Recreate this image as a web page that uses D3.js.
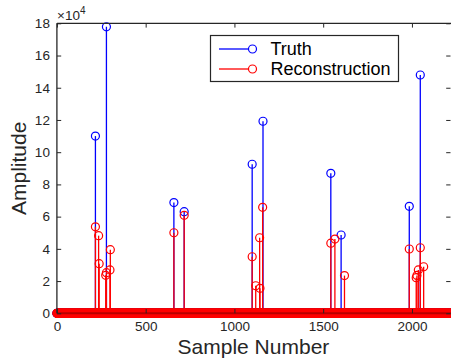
<!DOCTYPE html>
<html><head><meta charset="utf-8">
<script src="https://cdn.jsdelivr.net/npm/d3@7"></script>
<style>
html,body{margin:0;padding:0;background:#fff;}
svg{display:block;font-family:"Liberation Sans",Arial,Helvetica,sans-serif;}
</style></head>
<body><div id="chart"></div>
<script>
// Sample count shown on the axis
const sampleCount = 2220;
// Truth: non-zero samples
const truthIdx = [217, 279, 659, 717, 1100, 1161, 1543, 1601, 1985, 2047];
const truthVal = [110000, 177800, 68700, 63100, 92500, 119200, 86900, 48600, 66400, 147900];
// Reconstruction: non-zero samples
const reconIdx = [217, 235, 238, 275, 279, 299, 301, 659, 717, 1100, 1120, 1142, 1144, 1159, 1543, 1566, 1620, 1985, 2024, 2028, 2036, 2047, 2066];
const reconVal = [53700, 48200, 30800, 23600, 25200, 26900, 39500, 50000, 60800, 35100, 17100, 46900, 15500, 65800, 43500, 46100, 23400, 39900, 22100, 23500, 26900, 40700, 28900];
const xTicks = [0, 500, 1000, 1500, 2000];
const yTicks = [0, 20000, 40000, 60000, 80000, 100000, 120000, 140000, 160000, 180000];
const seriesNames = ["Truth", "Reconstruction"];
const seriesColors = ["#0000ff", "#ff0000"];

function fullSeries(idx, val) {
  const m = new Map(idx.map((d, i) => [d, val[i]]));
  const out = [];
  for (let s = 0; s <= sampleCount; s++) out.push({s: s, v: m.has(s) ? m.get(s) : 0});
  return out;
}
const truth = fullSeries(truthIdx, truthVal);
const recon = fullSeries(reconIdx, reconVal);

const W = 451, H = 361;
const m = {left: 56.9, right: 0, top: 23.3, bottom: 47.7};
const svg = d3.select("#chart").append("svg").attr("width", W).attr("height", H);
const x = d3.scaleLinear().domain([0, sampleCount]).range([m.left, W - m.right]);
const y = d3.scaleLinear().domain([0, 180000]).range([H - m.bottom, m.top]);
const axisColor = "#262626";

svg.append("defs").append("clipPath").attr("id", "clip")
  .append("rect").attr("x", m.left - 6).attr("y", 0).attr("width", W - m.left + 6).attr("height", H);

const plot = svg.append("g").attr("clip-path", "url(#clip)");

function drawSeries(data, color, onlyNonZero) {
  const g = plot.append("g");
  g.selectAll("line.stem").data(data.filter(d => d.v !== 0)).enter().append("line")
    .attr("x1", d => x(d.s)).attr("x2", d => x(d.s))
    .attr("y1", y(0)).attr("y2", d => y(d.v))
    .attr("stroke", color).attr("stroke-width", 1.3);
  g.selectAll("circle").data(onlyNonZero ? data.filter(d => d.v !== 0) : data).enter().append("circle")
    .attr("cx", d => x(d.s)).attr("cy", d => y(d.v)).attr("r", 4)
    .attr("fill", "none").attr("stroke", color).attr("stroke-width", 1.2);
}
drawSeries(truth, seriesColors[0], false);
drawSeries(recon, seriesColors[1], false);
plot.append("line").attr("x1", m.left).attr("x2", W).attr("y1", y(0)).attr("y2", y(0))
  .attr("stroke", "#b80000").attr("stroke-width", 2);

// axes box
const ax = svg.append("g");
ax.append("line").attr("x1", m.left).attr("x2", W).attr("y1", m.top).attr("y2", m.top).attr("stroke", axisColor).attr("stroke-width", 1.3);
ax.append("line").attr("x1", m.left).attr("x2", m.left).attr("y1", m.top).attr("y2", y(0)).attr("stroke", axisColor).attr("stroke-width", 1.3);

const xAxisB = d3.axisBottom(x).tickValues(xTicks).tickSize(-4.3).tickPadding(8).tickFormat(d3.format("d"));
const xAxisT = d3.axisTop(x).tickValues(xTicks).tickSize(-4.3).tickFormat("");
const yAxisL = d3.axisLeft(y).tickValues(yTicks).tickSize(-4.3).tickPadding(7).tickFormat(d => d / 10000);
const yAxisR = d3.axisRight(y).tickValues(yTicks).tickSize(-4.3).tickFormat("");

function styleAxis(g) {
  g.select(".domain").remove();
  g.selectAll(".tick line").attr("stroke", axisColor).attr("stroke-width", 1);
  g.selectAll(".tick text").attr("fill", axisColor).style("font-size", "13.5px")
    .style("font-family", "'Liberation Sans',Arial,sans-serif");
}
svg.append("g").attr("transform", `translate(0,${y(0)})`).call(xAxisB).call(styleAxis);
svg.append("g").attr("transform", `translate(0,${m.top})`).call(xAxisT).call(styleAxis);
svg.append("g").attr("transform", `translate(${m.left},0)`).call(yAxisL).call(styleAxis);
svg.append("g").attr("transform", `translate(${W - 0.5},0)`).call(yAxisR).call(styleAxis);

// exponent label
const ex = svg.append("text").attr("x", 57).attr("y", 19.5).attr("fill", axisColor)
  .style("font-size", "13.5px");
ex.append("tspan").text("\u00d710");
ex.append("tspan").attr("dy", -6).style("font-size", "10px").text("4");

// axis titles
svg.append("text").attr("x", (m.left + 451) / 2 - 0.5).attr("y", 354).attr("text-anchor", "middle")
  .attr("fill", axisColor).style("font-size", "21px").text("Sample Number");
svg.append("text").attr("transform", `translate(25.5,${(m.top + y(0)) / 2}) rotate(-90)`)
  .attr("text-anchor", "middle").attr("fill", axisColor).style("font-size", "21px").text("Amplitude");

// legend
const lg = svg.append("g");
lg.append("rect").attr("x", 210.5).attr("y", 35.5).attr("width", 188).attr("height", 46)
  .attr("fill", "#fff").attr("stroke", axisColor).attr("stroke-width", 1.2);
seriesNames.forEach((name, i) => {
  const yy = 49 + i * 20;
  lg.append("line").attr("x1", 219).attr("x2", 249).attr("y1", yy).attr("y2", yy)
    .attr("stroke", seriesColors[i]).attr("stroke-width", 1.3);
  lg.append("circle").attr("cx", 252.5).attr("cy", yy).attr("r", 4)
    .attr("fill", "none").attr("stroke", seriesColors[i]).attr("stroke-width", 1.2);
  lg.append("text").attr("x", 270.5).attr("y", yy + 5.5).attr("fill", "#000")
    .style("font-size", "18px").text(name);
});
</script></body></html>
